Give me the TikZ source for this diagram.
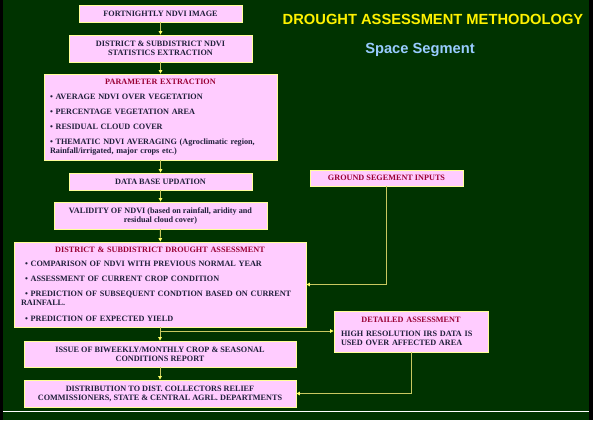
\documentclass[tikz,border=0pt]{standalone}
\usepackage{fontspec}
\setmainfont{Liberation Serif}
\newfontfamily\headfont{Liberation Sans}
\usetikzlibrary{arrows.meta}
\definecolor{bg}{HTML}{003300}
\definecolor{boxfill}{HTML}{FFCCFF}
\definecolor{boxline}{HTML}{FFFF99}
\definecolor{ttl}{HTML}{990033}
\definecolor{txt}{HTML}{1F1F3A}
\definecolor{conn}{HTML}{C8C860}
\definecolor{tip}{HTML}{FFFF66}
\definecolor{sub}{HTML}{99CCFF}
\begin{document}
\begin{tikzpicture}[x=1pt,y=-1pt,
  box/.style={draw=boxline, line width=0.8pt, fill=boxfill, rectangle, inner sep=0pt,
    align=center, font=\bfseries\fontsize{8.2}{9}\selectfont, text=txt},
  listbox/.style={box, align=left},
  link/.style={draw=conn, line width=0.8pt, -{Triangle[length=3.5pt,width=3.5pt,color=tip]}},
  heading/.style={font=\headfont\bfseries\fontsize{14.7}{17}\selectfont, anchor=base, inner sep=0pt}
]
\fill[black] (0,0) rectangle (593,420);
\fill[bg] (3,0) rectangle (589,420);
\useasboundingbox (0,0) rectangle (593,420);
\draw[white, line width=1pt] (3,411) -- (589,411);

\node[heading, text=yellow] (title) at (433,25) {DROUGHT ASSESSMENT METHODOLOGY};
\node[heading, text=sub] (subtitle) at (420,53) {Space Segment};

\node[box, minimum width=163pt, minimum height=17pt] (b1) at (160.5,13.5) {FORTNIGHTLY NDVI IMAGE};
\node[box, minimum width=183pt, minimum height=27pt] (b2) at (160.5,48.5) {DISTRICT \& SUBDISTRICT NDVI\\STATISTICS EXTRACTION};
\node[listbox, minimum width=233pt, minimum height=86pt, text width=221pt] (b3) at (160.5,117) {%
{\centering\color{ttl}PARAMETER EXTRACTION\par}\vspace{6pt}%
\textbullet{} AVERAGE NDVI OVER VEGETATION\par\vspace{6pt}%
\textbullet{} PERCENTAGE VEGETATION AREA\par\vspace{5.5pt}%
\textbullet{} RESIDUAL CLOUD COVER\par\vspace{6pt}%
\textbullet{} THEMATIC NDVI AVERAGING (Agroclimatic region,\\Rainfall/irrigated, major crops etc.)};
\node[box, minimum width=183pt, minimum height=17pt] (b4) at (160.5,181.5) {DATA BASE UPDATION};
\node[box, minimum width=213pt, minimum height=27pt] (b5) at (160.5,215.5) {VALIDITY OF NDVI (based on rainfall, aridity and\\residual cloud cover)};
\node[listbox, minimum width=292pt, minimum height=85pt, text width=278pt] (b6) at (160,284.5) {%
{\centering\color{ttl}DISTRICT \& SUBDISTRICT DROUGHT ASSESSMENT\par}\vspace{5pt}%
\hspace*{4pt}\textbullet{} COMPARISON OF NDVI WITH PREVIOUS NORMAL YEAR\par\vspace{6pt}%
\hspace*{4pt}\textbullet{} ASSESSMENT OF CURRENT CROP CONDITION\par\vspace{6pt}%
\hspace*{4pt}\textbullet{} PREDICTION OF SUBSEQUENT CONDTION BASED ON CURRENT\\RAINFALL.\par\vspace{7pt}%
\hspace*{4pt}\textbullet{} PREDICTION OF EXPECTED YIELD};
\node[box, minimum width=272pt, minimum height=26pt] (b7) at (160,354) {ISSUE OF BIWEEKLY/MONTHLY CROP \& SEASONAL\\CONDITIONS REPORT};
\node[box, minimum width=272pt, minimum height=27pt] (b8) at (160,393.5) {DISTRIBUTION TO DIST. COLLECTORS RELIEF\\COMMISSIONERS, STATE \& CENTRAL AGRL. DEPARTMENTS};
\node[box, minimum width=153pt, minimum height=16pt, text=ttl] (g) at (386.5,178) {GROUND SEGEMENT INPUTS};
\node[listbox, minimum width=154pt, minimum height=41pt, text width=140pt] (d) at (411,331.5) {%
{\centering\color{ttl}DETAILED ASSESSMENT\par}\vspace{5pt}%
HIGH RESOLUTION IRS DATA IS\\USED OVER AFFECTED AREA};

\draw[link] (b1) -- (b2);
\draw[link] (b2) -- (b3);
\draw[link] (b3) -- (b4);
\draw[link] (b4) -- (b5);
\draw[link] (b5) -- (b6);
\draw[link] (b6) -- (b7);
\draw[link] (b7) -- (b8);
\coordinate (br) at (160,331);
\draw[link] (br) -- (br -| d.west);
\draw[link] (g) |- (b6);
\draw[link] (d) |- (b8);
\end{tikzpicture}
\end{document}
